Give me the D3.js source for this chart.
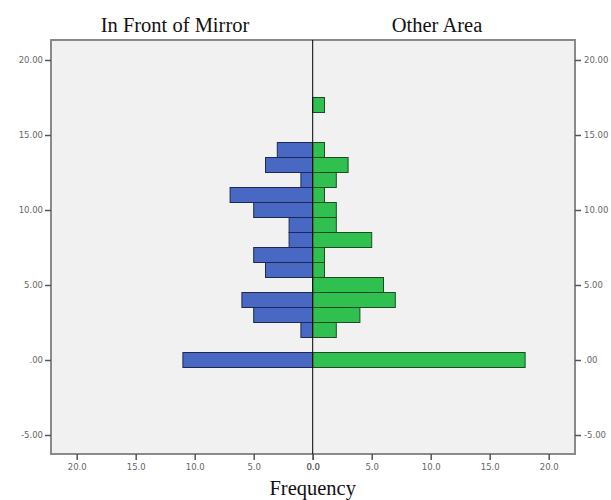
<!DOCTYPE html>
<html>
<head>
<meta charset="utf-8">
<script src="https://cdn.jsdelivr.net/npm/d3@7"></script>
<style>
  body { margin: 0; background: #fff; }
</style>
</head>
<body>
<div id="chart"></div>
<script>
// bin centres (value on the vertical axis)
const bins = [0, 1, 2, 3, 4, 5, 6, 7, 8, 9, 10, 11, 12, 13, 14, 15, 16, 17];
const mirrorCounts = [11, 0, 1, 5, 6, 0, 4, 5, 2, 2, 5, 7, 1, 4, 3, 0, 0, 0];
const otherCounts = [18, 0, 2, 4, 7, 6, 1, 1, 5, 2, 2, 1, 2, 3, 1, 0, 0, 1];
const groupNames = ["In Front of Mirror", "Other Area"];
const yTicks = [-5, 0, 5, 10, 15, 20];
const xTicks = [0, 5, 10, 15, 20];

const colors = {
  mirror: "#4868c4",
  mirrorEdge: "#1c2850",
  other: "#30c050",
  otherEdge: "#1c4a26",
  plotBg: "#f1f1f1",
  frame: "#8a8a8a",
  tickText: "#666",
};

const width = 611, height = 500;
const plot = { left: 51, right: 575, top: 40, bottom: 454 };
const mid = 312.7;

const svg = d3.select("#chart").append("svg")
  .attr("width", width)
  .attr("height", height);

const y = d3.scaleLinear().domain([-5, 20]).range([435, 60]);
const xLeft = d3.scaleLinear().domain([0, 20]).range([mid, mid - 236]);
const xRight = d3.scaleLinear().domain([0, 20]).range([mid, mid + 236]);

// plot background + frame
svg.append("rect")
  .attr("x", plot.left).attr("y", plot.top)
  .attr("width", plot.right - plot.left)
  .attr("height", plot.bottom - plot.top)
  .attr("fill", colors.plotBg)
  .attr("stroke", colors.frame)
  .attr("stroke-width", 2);

const barH = y(0) - y(1);

// left bars (mirror)
svg.append("g")
  .selectAll("rect")
  .data(bins.map((b, i) => ({ b, v: mirrorCounts[i] })).filter((d) => d.v > 0))
  .join("rect")
  .attr("x", (d) => xLeft(d.v))
  .attr("y", (d) => y(d.b + 0.5))
  .attr("width", (d) => xLeft(0) - xLeft(d.v))
  .attr("height", barH)
  .attr("fill", colors.mirror)
  .attr("stroke", colors.mirrorEdge)
  .attr("stroke-width", 1);

// right bars (other area)
svg.append("g")
  .selectAll("rect")
  .data(bins.map((b, i) => ({ b, v: otherCounts[i] })).filter((d) => d.v > 0))
  .join("rect")
  .attr("x", xRight(0))
  .attr("y", (d) => y(d.b + 0.5))
  .attr("width", (d) => xRight(d.v) - xRight(0))
  .attr("height", barH)
  .attr("fill", colors.other)
  .attr("stroke", colors.otherEdge)
  .attr("stroke-width", 1);

// centre line
svg.append("line")
  .attr("x1", mid).attr("x2", mid)
  .attr("y1", plot.top).attr("y2", plot.bottom)
  .attr("stroke", "#000")
  .attr("stroke-width", 1);

// SPSS style labels: ".00" for zero, plain hyphen for minus
const fmtY = (d) => (d === 0 ? ".00" : d.toFixed(2));
const fmtX = (d) => d.toFixed(1);

function styleAxis(g) {
  g.select(".domain").remove();
  g.selectAll(".tick line").attr("stroke", "#555").attr("stroke-width", 1.5);
  g.selectAll(".tick text")
    .attr("fill", colors.tickText)
    .attr("font-family", "DejaVu Sans, sans-serif")
    .attr("font-size", 8.5);
}

svg.append("g")
  .attr("transform", `translate(${plot.left},0)`)
  .call(d3.axisLeft(y).tickValues(yTicks).tickFormat(fmtY).tickSize(6).tickPadding(2))
  .call(styleAxis);

svg.append("g")
  .attr("transform", `translate(${plot.right},0)`)
  .call(d3.axisRight(y).tickValues(yTicks).tickFormat(fmtY).tickSize(6).tickPadding(3))
  .call(styleAxis);

svg.append("g")
  .attr("transform", `translate(0,${plot.bottom})`)
  .call(d3.axisBottom(xLeft).tickValues(xTicks).tickFormat(fmtX).tickSize(6).tickPadding(4))
  .call(styleAxis);

svg.append("g")
  .attr("transform", `translate(0,${plot.bottom})`)
  .call(d3.axisBottom(xRight).tickValues(xTicks).tickFormat(fmtX).tickSize(6).tickPadding(4))
  .call(styleAxis);

// group titles
svg.selectAll(".group-title")
  .data(groupNames)
  .join("text")
  .attr("class", "group-title")
  .attr("x", (d, i) => (i === 0 ? 175 : 437))
  .attr("y", 32)
  .attr("text-anchor", "middle")
  .attr("font-family", "Liberation Serif, serif")
  .attr("font-size", 20.5)
  .attr("fill", "#111")
  .text((d) => d);

svg.append("text")
  .attr("x", mid)
  .attr("y", 495)
  .attr("text-anchor", "middle")
  .attr("font-family", "Liberation Serif, serif")
  .attr("font-size", 20.5)
  .attr("fill", "#111")
  .text("Frequency");
</script>
</body>
</html>
